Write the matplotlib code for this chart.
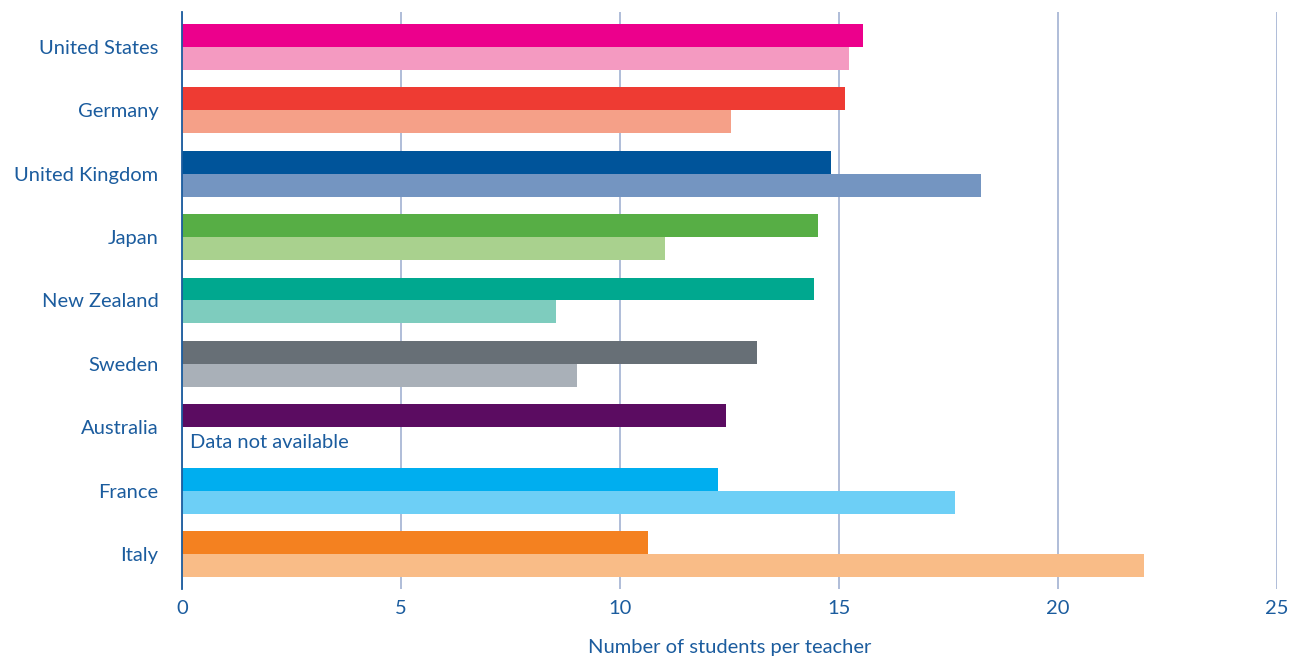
import matplotlib.pyplot as plt
import numpy as np

countries = ["United States", "Germany", "United Kingdom", "Japan", "New Zealand",
             "Sweden", "Australia", "France", "Italy"]
primary = [15.54, 15.15, 14.83, 14.53, 14.44, 13.14, 12.43, 12.23, 10.63]
secondary = [15.23, 12.53, 18.24, 11.04, 8.53, 9.03, None, 17.66, 21.96]

dark_colors = ["#EC008C", "#EE3B33", "#00549A", "#57AE45", "#00A88F",
               "#676F76", "#5B0C61", "#00AEEF", "#F48120"]
light_colors = ["#F49AC1", "#F5A088", "#7495C1", "#A9D18E", "#7ECCBE",
                "#A9B0B8", "#FFFFFF", "#6DCFF6", "#F9BC87"]

TEXT = "#1B5C9E"
GRID = "#A9B7D6"

plt.rcParams['font.family'] = ['Lato', 'DejaVu Sans']

fig = plt.figure(figsize=(12.95, 6.58), dpi=100)
ax = fig.add_axes([0.1405, 0.1049, 0.8455, 0.8769])

h = 0.362
y = np.arange(len(countries))
ax.barh(y - h / 2, primary, height=h, color=dark_colors, zorder=3)
for i, v in enumerate(secondary):
    if v is None:
        # no second bar for this country, note it in the empty slot
        ax.text(0.18, y[i] + h / 2 + 0.06, "Data not available", color=TEXT,
                fontsize=14.5, va="center", ha="left", zorder=4)
    else:
        ax.barh(y[i] + h / 2, v, height=h, color=light_colors[i], zorder=3)

ax.set_xlim(0, 25)
ax.set_ylim(len(countries) - 1 + 0.551, -0.551)
ax.set_xticks([0, 5, 10, 15, 20, 25])
ax.set_yticks(y)
ax.set_yticklabels(countries)
ax.xaxis.grid(True, color=GRID, linewidth=1.3, zorder=0)
ax.tick_params(axis="both", length=0, colors=TEXT, labelsize=14.5)
ax.tick_params(axis="x", pad=8)
ax.tick_params(axis="y", pad=17)

for side in ["top", "right", "bottom"]:
    ax.spines[side].set_visible(False)
ax.spines["left"].set_color(TEXT)
ax.spines["left"].set_linewidth(1.3)
ax.spines["left"].set_zorder(5)

ax.set_xlabel("Number of students per teacher", color=TEXT, fontsize=14.5, labelpad=16)

fig.savefig("out.png", dpi=100)
